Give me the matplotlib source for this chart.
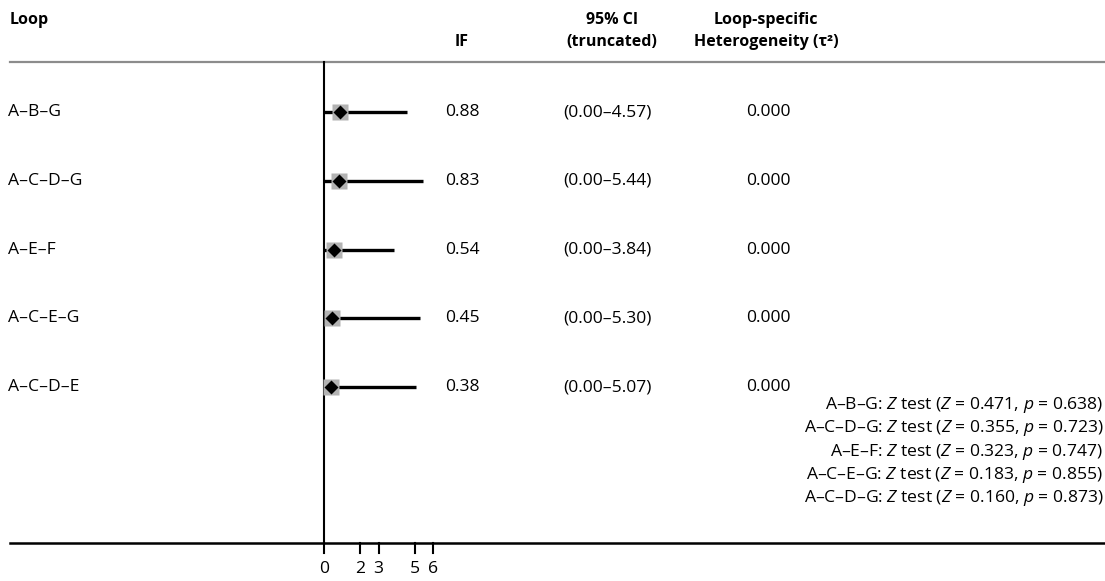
import matplotlib.pyplot as plt

plt.rcParams['font.family'] = ['Open Sans', 'DejaVu Sans']
plt.rcParams['mathtext.fontset'] = 'custom'
plt.rcParams['mathtext.rm'] = 'Open Sans'
plt.rcParams['mathtext.it'] = 'Open Sans:italic'

# data
loops = ["A–B–G", "A–C–D–G", "A–E–F", "A–C–E–G", "A–C–D–E"]
if_vals = [0.88, 0.83, 0.54, 0.45, 0.38]
ci_low = [0.00, 0.00, 0.00, 0.00, 0.00]
ci_high = [4.57, 5.44, 3.84, 5.30, 5.07]
tau2 = [0.000, 0.000, 0.000, 0.000, 0.000]

z_loops = ["A–B–G", "A–C–D–G", "A–E–F", "A–C–E–G", "A–C–D–G"]
z_vals = [0.471, 0.355, 0.323, 0.183, 0.160]
p_vals = [0.638, 0.723, 0.747, 0.855, 0.873]

xticks = [0, 2, 3, 5, 6]

W, H = 1105, 581
fig = plt.figure(figsize=(W / 100, H / 100), dpi=100)
ax = fig.add_axes([0, 0, 1, 1])

# pixel mapping: x=0 at 324 px, 18.2 px per unit; rows 68.75 px apart starting at 112 px
x0, sx = 324, 18.2
y0, sy = 112, 68.75
ax.set_xlim(-x0 / sx, (W - x0) / sx)
ax.set_ylim((H - y0) / sy, -y0 / sy)
ax.axis("off")

def px(p):
    return (p - x0) / sx

def py(p):
    return (p - y0) / sy

fs = 12.6   # body text
hfs = 11.5  # bold headers
rows = range(len(loops))

# separator lines
ax.plot([px(10), px(W)], [py(62), py(62)], color="#8c8c8c", lw=1.6)
ax.plot([px(10), px(W)], [py(543), py(543)], color="black", lw=1.8)
ax.plot([0, 0], [py(62), py(543)], color="black", lw=1.5)
for t in xticks:
    ax.plot([t, t], [py(543), py(553)], color="black", lw=1.5)
    ax.text(t, py(569), str(t), ha="center", va="center", fontsize=fs)

# forest marks
for i in rows:
    ax.plot([ci_low[i], ci_high[i]], [i, i], color="black", lw=2.4, solid_capstyle="butt")
    ax.plot(if_vals[i], i, marker="s", ms=11, color="#b3b3b3", mec="none")
    ax.plot(if_vals[i], i, marker="D", ms=7, color="black", mec="none")

# headers
ax.text(px(10), py(20), "Loop", fontsize=hfs, fontweight="bold", va="center")
ax.text(px(455), py(42), "IF", fontsize=hfs, fontweight="bold", va="center")
ax.text(px(612), py(20), "95% CI", fontsize=hfs, fontweight="bold", va="center", ha="center")
ax.text(px(612), py(42), "(truncated)", fontsize=hfs, fontweight="bold", va="center", ha="center")
ax.text(px(766), py(20), "Loop-specific", fontsize=hfs, fontweight="bold", va="center", ha="center")
ax.text(px(766), py(42), "Heterogeneity (τ²)", fontsize=hfs, fontweight="bold", va="center", ha="center")

# row texts
for i in rows:
    ax.text(px(8), i, loops[i], fontsize=fs, va="center")
    ax.text(px(445), i, f"{if_vals[i]:.2f}", fontsize=fs, va="center")
    ax.text(px(607), i, f"({ci_low[i]:.2f}–{ci_high[i]:.2f})", fontsize=fs, va="center", ha="center")
    ax.text(px(768), i, f"{tau2[i]:.3f}", fontsize=fs, va="center", ha="center")

# Z tests
for k in range(len(z_loops)):
    s = f"{z_loops[k]}: $Z$ test ($Z$ = {z_vals[k]:.3f}, $p$ = {p_vals[k]:.3f})"
    ax.text(px(1103), py(405 + 23.3 * k), s, fontsize=fs, va="center", ha="right")

fig.savefig("out.png", dpi=100)
